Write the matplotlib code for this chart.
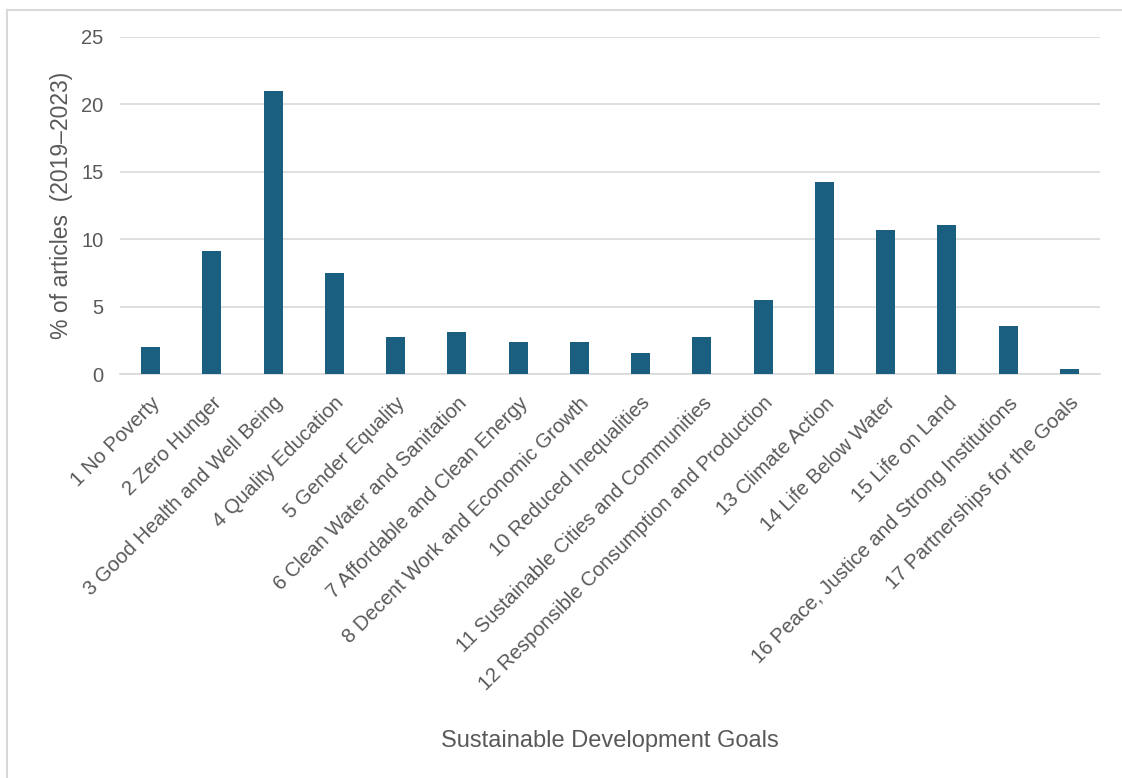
import matplotlib.pyplot as plt
from matplotlib.patches import Rectangle

goals = [
    "1 No Poverty",
    "2 Zero Hunger",
    "3 Good Health and Well Being",
    "4 Quality Education",
    "5 Gender Equality",
    "6 Clean Water and Sanitation",
    "7 Affordable and Clean Energy",
    "8 Decent Work and Economic Growth",
    "10 Reduced Inequalities",
    "11 Sustainable Cities and Communities",
    "12 Responsible Consumption and Production",
    "13 Climate Action",
    "14 Life Below Water",
    "15 Life on Land",
    "16 Peace, Justice and Strong Institutions",
    "17 Partnerships for the Goals",
]
pct_articles = [2.0, 9.1, 21.0, 7.5, 2.72, 3.14, 2.37, 2.37, 1.58, 2.72,
                5.49, 14.2, 10.65, 11.02, 3.53, 0.37]

plt.rcParams["font.family"] = ["Liberation Sans", "DejaVu Sans"]
grey = "#595959"

fig = plt.figure(figsize=(11.22, 7.78), dpi=100)
ax = fig.add_axes([120 / 1122, 1 - 374 / 778, 980 / 1122, 337.3 / 778])

x = range(len(goals))
ax.bar(x, pct_articles, width=0.31, color="#1a5f80", zorder=3)

ax.set_xlim(-0.5, len(goals) - 0.5)
ax.set_ylim(0, 25)
ax.set_yticks(range(0, 26, 5))
ax.grid(axis="y", color="#d9d9d9", linewidth=1.2, zorder=0)
for side in ["top", "right", "left"]:
    ax.spines[side].set_visible(False)
ax.spines["bottom"].set_color("#d9d9d9")
ax.spines["bottom"].set_linewidth(1.2)
ax.tick_params(axis="both", length=0, colors=grey)
ax.tick_params(axis="y", pad=12, labelsize=14.5)

ax.set_xticks(list(x))
ax.set_xticklabels(goals, rotation=45, ha="right", rotation_mode="anchor", fontsize=14.6)
ax.tick_params(axis="x", pad=14)

ax.set_ylabel("% of articles  (2019\u20132023)", fontsize=16.5, color=grey, labelpad=6)
fig.text(610 / 1122, 1 - 741 / 778, "Sustainable Development Goals",
         fontsize=17, color=grey, ha="center", va="center")

fig.patches.append(Rectangle((7 / 1122, -0.2), 1.2, 1.2 - 10 / 778,
                             transform=fig.transFigure, fill=False,
                             edgecolor="#d9d9d9", linewidth=1.5))

fig.savefig("out.png", dpi=100)
